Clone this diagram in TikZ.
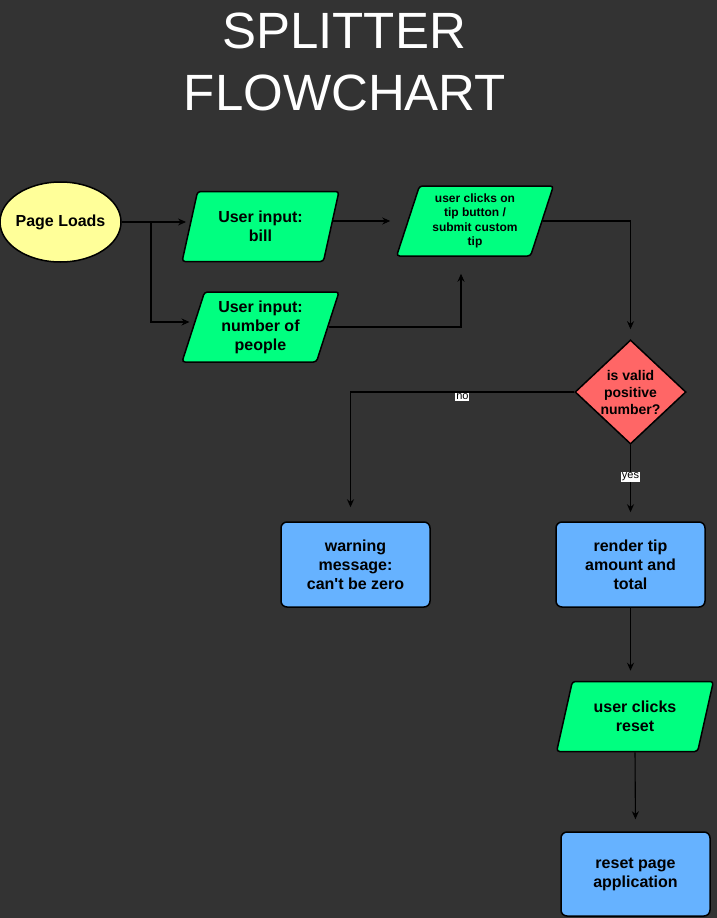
\documentclass[tikz,border=0pt]{standalone}
\usepackage{fontspec}
\setmainfont{Liberation Sans}[Ligatures=TeXOff]
\usetikzlibrary{shapes.geometric,arrows.meta}
\definecolor{bgc}{HTML}{333333}
\definecolor{greenc}{HTML}{00FF80}
\definecolor{yellowc}{HTML}{FFFF99}
\definecolor{redc}{HTML}{FF6666}
\definecolor{bluec}{HTML}{66B2FF}
\tikzset{
  shp/.style={draw=black, line width=1.5pt, text=black, align=center, inner sep=2pt},
  para/.style={shp, trapezium, trapezium left angle=72.6, trapezium right angle=107.4,
    trapezium stretches=true, minimum width=157pt, minimum height=70pt, fill=greenc,
    rounded corners=3pt, font=\bfseries\fontsize{16}{19}\selectfont},
  boxc/.style={shp, rectangle, rounded corners=6pt, fill=bluec, minimum width=149pt,
    minimum height=85pt, font=\bfseries\fontsize{16}{19}\selectfont},
  arr/.style={draw=black, line width=1.1pt, -{Stealth[length=8pt,width=7pt]}},
  lnk/.style={draw=black, line width=1.1pt},
  lbl/.style={fill=white, text=black, inner sep=1pt, font=\fontsize{11}{12}\selectfont},
  ttl/.style={text=white, anchor=base, inner sep=0pt, font=\fontsize{51}{62}\selectfont}
}
\begin{document}
\begin{tikzpicture}[x=1pt,y=-1pt]
\fill[bgc] (0,0) rectangle (717,918);
\useasboundingbox (0,0) rectangle (717,918);
% title
\node[ttl] (t1) at (344,48) {SPLITTER};
\node[ttl] (t2) at (345,110) {FLOWCHART};
% nodes
\node[shp, ellipse, fill=yellowc, minimum width=121pt, minimum height=80pt, inner sep=0pt,
  font=\bfseries\fontsize{16}{19}\selectfont] (pl) at (60.5,222) {\makebox[0pt]{Page Loads}};
\node[para] (b) at (260.5,226.5) {User input:\\bill};
\node[para] (n) at (260.5,327) {User input:\\number of\\people};
\node[para, font=\bfseries\fontsize{12}{14.5}\selectfont] (t) at (475,221)
  {user clicks on\\tip button /\\submit custom\\tip};
\node[shp, diamond, fill=redc, minimum width=111pt, minimum height=104pt, inner sep=0pt,
  font=\bfseries\fontsize{14}{17}\selectfont] (d) at (630.5,392) {is valid\\positive\\number?};
\node[boxc] (w) at (355.5,564.5) {warning\\message:\\can't be zero};
\node[boxc] (r) at (630.5,564.5) {render tip\\amount and\\total};
\node[para] (u) at (635,716.5) {user clicks\\reset};
\node[boxc, minimum height=84pt] (rp) at (635.5,874) {reset page\\application};
% connectors
\coordinate (f) at (151,222);
\draw[lnk] (pl.east |- f) -- (f);
\draw[arr, shorten >=3pt] (f) -- (f -| b.left side);
\draw[arr, shorten >=3pt] (f) |- ([yshift=5pt]n.left side);
\draw[arr, shorten >=17pt] (b.right side |- t.left side) -- (t.left side);
\draw[arr, shorten >=17pt] (n.right side) -| ([xshift=-14pt]t.south);
\draw[arr, shorten >=10pt] (t.right side) -| (d.north);
\draw[arr, shorten >=14pt] (d.west) -| ([xshift=-5pt]w.north)
  node[lbl, pos=0.25, yshift=-5pt] (no) {no};
\draw[arr, shorten >=9pt] (d.south) -- (r.north)
  node[lbl, pos=0.42] (yes) {yes};
\draw[arr, shorten >=10pt] (r.south) -- (r.south |- u.north);
\draw[arr, shorten >=12pt] (u.south) -- (rp.north);
\end{tikzpicture}
\end{document}
